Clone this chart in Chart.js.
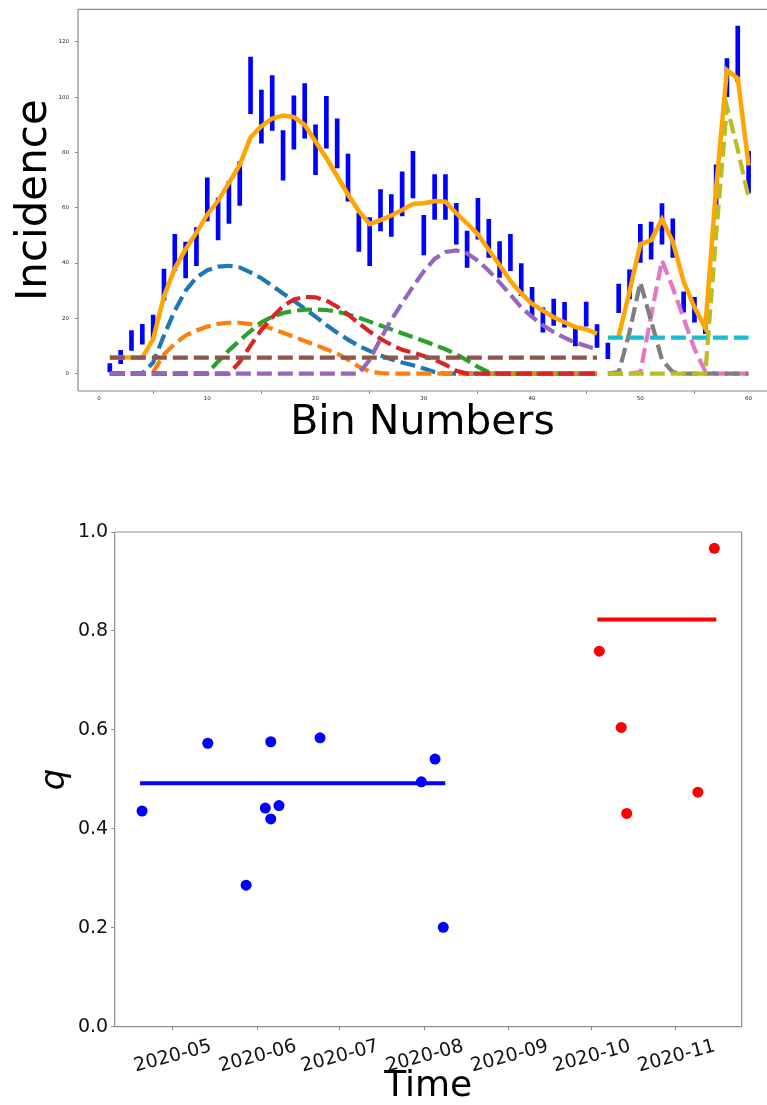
<!DOCTYPE html>
<html lang="en">
<head>
<meta charset="UTF-8">
<title>Incidence fit and q over time</title>
<script src="https://cdn.jsdelivr.net/npm/chart.js"></script>
<style>
  html, body { margin: 0; padding: 0; background: #fff; overflow: hidden; }
  #binChart { position: absolute; left: 0; top: 0; }
  #qChart { position: absolute; left: 0; top: 450px; }
</style>
</head>
<body>
<canvas id="binChart" width="767" height="450"></canvas>
<canvas id="qChart" width="767" height="655"></canvas>
<script>
// ---- top panel: incidence per bin ----
const bins = [1,2,3,4,5,6,7,8,9,10,11,12,13,14,15,16,17,18,19,20,21,22,23,24,25,26,27,28,29,30,
              31,32,33,34,35,36,37,38,39,40,41,42,43,44,45,46,47,48,49,50,51,52,53,54,55,56,57,58,59,60];
const low = [0.6,3.6,8.4,10.6,12.8,26.6,37.2,34.6,39,55.2, 48.4,54.3,60.8,94,83.4,88,70,81.2,85.2,72,
             81.6,74.4,62.4,44.2,39,51.6,49.6,57,63.6,42.9, 55.8,55.8,46.8,38.4,48.6,42,34.8,37.2,28.2,21,
             15,17.4,16.8,10,17.2,9.5,5.4,22,27,40.2, 41.4,46.8,42,22.2,18.6,14.4,59.4,100.2,105.6,65.4];
const high = [3.6,8.4,15.6,17.8,21.2,37.8,50.4,47.6,52.8,70.8, 63.5,69.6,76.7,114.5,102.6,107.8,87.9,100.5,104.9,90,
              100.3,92.2,79.4,58.1,56.4,66.6,64.8,73,80.4,57.3, 72,72,61.6,51.6,63.4,55.8,47.8,50.4,39.8,31.2,
              23.8,27,25.8,17,25.9,17.7,11,32.4,37.5,54, 54.8,61.5,56,29.6,27.6,18.6,75.5,114,125.7,80.4];
const fit = [5.8,5.8,5.8,5.8,12.5,28,38,45,51,57.5, 62.5,69,75.5,85.5,89.5,92.3,93.4,92.8,90,84,
             78,71.4,64.8,58.8,54.1,55.5,57.2,59.2,61.4,61.6, 62.4,62.2,58,54.3,50.4,44.7,39.3,33.5,29,25.2,
             22.8,20.4,18.6,16.8,16,14.5,null,13.5,29.7,46.8, 48.3,55.8,47.7,33.3,24,16.5,67.2,109.8,106.8,75.3];

const N = null;
const comp0 = [0,0,0,0,4,13.8,22.8,30,34.8,37.4, 38.7,39,38.4,36.6,34.5,31.8,29,26.3,23.5,20.6,
               17.6,14.8,12.3,10,8.2,6.6,5.2,4,3,1.8, 0.6,0,0,0,0,0,0,0,0,0, 0,0,0,0,0,0,N,N,N,N, N,N,N,N,N,N,N,N,N,N];
const comp1 = [0,0,0,0,0.5,7,10.8,13.8,15.6,17, 18,18.4,18.4,17.9,17.4,16.2,14.8,13.3,11.8,10.3,
               8.8,7.2,5,2.5,0.8,0.2,0,0,0,0, 0,0,0,0,0,0,0,0,0,0, 0,0,0,0,0,0,N,N,N,N, N,N,N,N,N,N,N,N,N,N];
const comp2 = [0,0,0,0,0,0,0,0,0,0, 4.4,8.4,12,15.4,18.6,20.6,21.9,22.7,23.1,23.2,
               23,22.4,21.4,20.2,18.8,17.4,16,14.6,13.2,11.8, 10.3,8.8,7,4.8,2.4,0.5,0,0,0,0, 0,0,0,0,0,0,N,N,N,N, N,N,N,N,N,N,N,N,N,N];
const comp3 = [0,0,0,0,0,0,0,0,0,0, 0,0,4.2,10.2,15.8,20.4,24.4,26.8,27.8,27.6,
               26.4,24.2,21.4,18.2,15.2,12.6,10.4,8.6,7.6,6.4, 5,3.2,1,0,0,0,0,0,0,0, 0,0,0,0,0,0,N,N,N,N, N,N,N,N,N,N,N,N,N,N];
const comp4 = [0,0,0,0,0,0,0,0,0,0, 0,0,0,0,0,0,0,0,0,0,
               0,0,0,0,5,12.5,19.5,25.5,31.5,37, 41.5,44,44.6,43.5,40.8,37.2,33,28.5,24,20.5,
               17.5,15,13,11.2,10,8.8,N,N,N,N, N,N,N,N,N,N,N,N,N,N];
const comp5 = [5.8,5.8,5.8,5.8,5.8,5.8,5.8,5.8,5.8,5.8, 5.8,5.8,5.8,5.8,5.8,5.8,5.8,5.8,5.8,5.8,
               5.8,5.8,5.8,5.8,5.8,5.8,5.8,5.8,5.8,5.8, 5.8,5.8,5.8,5.8,5.8,5.8,5.8,5.8,5.8,5.8,
               5.8,5.8,5.8,5.8,5.8,5.8,N,N,N,N, N,N,N,N,N,N,N,N,N,N];
const seg2 = [N,N,N,N,N,N,N,N,N,N, N,N,N,N,N,N,N,N,N,N, N,N,N,N,N,N,N,N,N,N,
              N,N,N,N,N,N,N,N,N,N, N,N,N,N,N,N];
const comp6 = seg2.concat([0,0,0,0.5,21,41,31,20,9,0.8,0,0,0,0]);
const comp7 = seg2.concat([0,0.5,15,33,19,5,0.5,0,0,0,0,0,0,0]);
const comp8 = seg2.concat([0,0,0,0,0,0,0,0,0,0,50,96.6,81,63.6]);
const comp9 = seg2.concat([13,13,13,13,13,13,13,13,13,13,13,13,13,13]);

const compSeries = [comp0, comp1, comp2, comp3, comp4, comp5, comp6, comp7, comp8, comp9];
const compColors = ['#1f77b4','#ff7f0e','#2ca02c','#d62728','#9467bd','#8c564b','#e377c2','#7f7f7f','#bcbd22','#17becf'];
const binTicks = [0,10,20,30,40,50,60];
const incTicks = [0,20,40,60,80,100,120];

// ---- bottom panel: q over time ----
const earlyDates = ['2020-04-20','2020-05-14','2020-05-28','2020-06-04','2020-06-06','2020-06-06',
                    '2020-06-09','2020-06-24','2020-07-31','2020-08-05','2020-08-08'];
const earlyQ = [0.436,0.573,0.286,0.442,0.420,0.576,0.447,0.584,0.495,0.541,0.201];
const lateDates = ['2020-10-04','2020-10-12','2020-10-14','2020-11-09','2020-11-15'];
const lateQ = [0.759,0.605,0.431,0.474,0.967];
const earlyMeanDates = ['2020-04-20','2020-08-08'];
const earlyMean = 0.492;
const lateMeanDates = ['2020-10-04','2020-11-15'];
const lateMean = 0.823;
const monthTicks = ['2020-05-01','2020-06-01','2020-07-01','2020-08-01','2020-09-01','2020-10-01','2020-11-01'];
const timeRange = ['2020-04-10','2020-11-25'];

const DAY0 = Date.UTC(2020, 4, 1);
function dayOf(s) {
  const p = s.split('-').map(Number);
  return (Date.UTC(p[0], p[1] - 1, p[2]) - DAY0) / 86400000;
}

const spine = '#8c8c8c';
const framePlugin = {
  id: 'frame',
  afterDatasetsDraw(chart, args, opts) {
    const { ctx, chartArea: a } = chart;
    const sides = opts.sides || ['left', 'top', 'right', 'bottom'];
    ctx.save();
    ctx.strokeStyle = spine;
    ctx.lineWidth = 1.2;
    ctx.beginPath();
    if (sides.includes('left')) { ctx.moveTo(a.left, a.top); ctx.lineTo(a.left, a.bottom); }
    if (sides.includes('bottom')) { ctx.moveTo(a.left, a.bottom); ctx.lineTo(a.right, a.bottom); }
    if (sides.includes('top')) { ctx.moveTo(a.left, a.top); ctx.lineTo(a.right, a.top); }
    if (sides.includes('right')) { ctx.moveTo(a.right, a.top); ctx.lineTo(a.right, a.bottom); }
    ctx.stroke();
    ctx.restore();
  }
};

Chart.defaults.font.family = 'DejaVu Sans';
Chart.defaults.color = '#222';

const topSets = [{
  type: 'bar',
  data: bins.map((b, i) => ({ x: b, y: [low[i], high[i]] })),
  backgroundColor: '#0000ff',
  borderWidth: 0,
  barThickness: 4,
  order: 30
}, {
  type: 'line',
  data: bins.map((b, i) => ({ x: b, y: fit[i] })),
  borderColor: '#ffa500',
  borderWidth: 4.5,
  pointRadius: 0,
  spanGaps: false,
  order: 20
}];
compSeries.forEach((vals, k) => {
  topSets.push({
    type: 'line',
    data: bins.map((b, i) => ({ x: b, y: vals[i] })),
    borderColor: compColors[k],
    borderWidth: 4.2,
    borderDash: [15, 6],
    pointRadius: 0,
    spanGaps: false,
    order: 10 - k
  });
});

new Chart(document.getElementById('binChart'), {
  type: 'line',
  data: { datasets: topSets },
  options: {
    responsive: false,
    animation: false,
    devicePixelRatio: 1,
    layout: { padding: { top: 7, right: 0, left: 0, bottom: 0 } },
    plugins: { legend: { display: false }, tooltip: { enabled: false }, frame: { sides: ['left', 'top', 'bottom'] } },
    scales: {
      x: {
        type: 'linear', min: -1.94, max: 61.7, offset: false,
        afterBuildTicks: s => { s.ticks = binTicks.map(v => ({ value: v })); },
        afterFit: s => { s.height = 59; },
        ticks: { font: { size: 5.5 }, padding: 1, autoSkip: false },
        grid: { drawOnChartArea: false, tickLength: 3, tickColor: spine },
        border: { display: false },
        title: { display: true, text: 'Bin Numbers', color: '#000', font: { size: 41, lineHeight: 1 }, padding: { top: 0, bottom: 5.7 } }
      },
      y: {
        min: -6.3, max: 131.8,
        afterBuildTicks: s => { s.ticks = incTicks.map(v => ({ value: v })); },
        afterFit: s => { s.width = 78; },
        ticks: { font: { size: 5.5 }, padding: 6 },
        grid: { drawOnChartArea: false, tickLength: 3, tickColor: spine },
        border: { display: false },
        title: { display: true, text: 'Incidence', color: '#000', font: { size: 42, lineHeight: 1 }, padding: { top: 14.5, bottom: 0 } }
      }
    }
  },
  plugins: [framePlugin]
});

const monthLabels = monthTicks.map(s => s.slice(0, 7));

new Chart(document.getElementById('qChart'), {
  type: 'line',
  data: {
    datasets: [{
      data: earlyMeanDates.map(d => ({ x: dayOf(d), y: earlyMean })),
      borderColor: '#0000ff', borderWidth: 4, borderCapStyle: 'square', pointRadius: 0, order: 4
    }, {
      data: lateMeanDates.map(d => ({ x: dayOf(d), y: lateMean })),
      borderColor: '#ff0000', borderWidth: 4, borderCapStyle: 'square', pointRadius: 0, order: 3
    }, {
      data: earlyDates.map((d, i) => ({ x: dayOf(d), y: earlyQ[i] })),
      showLine: false, pointRadius: 5.5, pointBorderWidth: 0,
      pointBackgroundColor: '#0000ff', borderColor: '#0000ff', order: 2
    }, {
      data: lateDates.map((d, i) => ({ x: dayOf(d), y: lateQ[i] })),
      showLine: false, pointRadius: 5.5, pointBorderWidth: 0,
      pointBackgroundColor: '#ff0000', borderColor: '#ff0000', order: 1
    }]
  },
  options: {
    responsive: false,
    animation: false,
    devicePixelRatio: 1,
    layout: { padding: { top: 82, right: 25.3, left: 0, bottom: 0 } },
    plugins: { legend: { display: false }, tooltip: { enabled: false }, frame: {} },
    scales: {
      x: {
        type: 'linear', min: dayOf(timeRange[0]), max: dayOf(timeRange[1]),
        afterBuildTicks: s => { s.ticks = monthTicks.map(m => ({ value: dayOf(m) })); },
        afterFit: s => { s.height = 78.3; },
        ticks: {
          font: { size: 19 }, color: '#111', autoSkip: false,
          minRotation: 15, maxRotation: 15, labelOffset: 39, padding: 5,
          callback: (v, i) => monthLabels[i]
        },
        grid: { drawOnChartArea: false, tickLength: 3.5, tickColor: spine },
        border: { display: false },
        title: { display: true, text: 'Time', color: '#000', font: { size: 36, lineHeight: 1 }, padding: { top: 0, bottom: 0 } }
      },
      y: {
        min: 0, max: 1,
        ticks: { stepSize: 0.2, font: { size: 19 }, color: '#111', padding: 3, callback: v => v.toFixed(1) },
        afterFit: s => { s.width = 114.7; },
        grid: { drawOnChartArea: false, tickLength: 3.5, tickColor: spine },
        border: { display: false },
        title: { display: true, text: 'q', color: '#000', font: { size: 34, style: 'italic', lineHeight: 1 }, padding: { top: 38, bottom: 0 } }
      }
    }
  },
  plugins: [framePlugin]
});
</script>
</body>
</html>
